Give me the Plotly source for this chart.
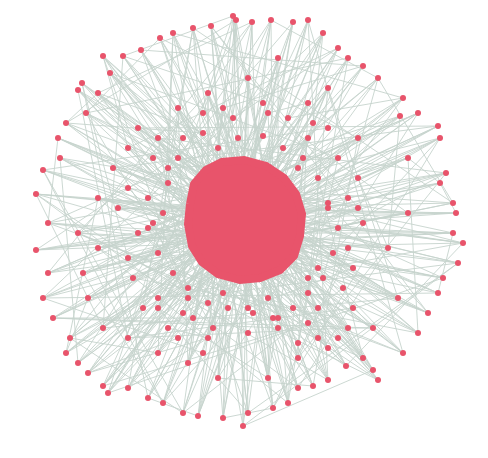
import plotly.graph_objects as go

# outer nodes (approx pixel positions)
outer_x = [225, 228, 244, 263, 285, 300, 203, 185, 165, 152, 133, 115, 95, 102, 74, 70, 90, 78, 58, 50,
           52, 35, 28, 40, 28, 40, 35, 45, 62, 58, 70, 80, 95, 100, 120, 140, 155, 175, 190, 215,
           235, 240, 265, 280, 290, 305, 320, 338, 355, 365, 370, 395, 410, 420, 430, 435, 450, 455, 445, 448,
           445, 432, 438, 432, 430, 410, 392, 395, 370, 355, 340, 330, 315, 320, 350, 400, 400, 380, 390, 365,
           340, 320, 290, 260, 210, 180, 150, 120, 95, 80, 75, 90, 70, 90, 105, 120, 130, 170, 200, 240,
           270, 300, 330, 350, 345, 310, 270, 200, 150, 120, 110, 150, 215, 260, 300, 320, 310, 240, 180, 140, 160]
outer_y = [8, 12, 14, 12, 14, 12, 18, 20, 25, 30, 42, 48, 48, 65, 75, 82, 85, 105, 115, 130,
           150, 162, 186, 215, 242, 265, 290, 310, 330, 345, 355, 365, 378, 385, 380, 390, 395, 405, 408, 410,
           418, 405, 400, 395, 380, 378, 372, 358, 350, 362, 372, 345, 325, 305, 285, 270, 255, 235, 225, 205,
           195, 175, 165, 130, 118, 105, 108, 90, 70, 58, 50, 40, 25, 80, 130, 150, 205, 240, 290, 320,
           320, 340, 350, 370, 370, 355, 345, 330, 320, 290, 265, 240, 225, 190, 160, 140, 120, 100, 85, 70,
           50, 95, 150, 200, 260, 300, 310, 330, 300, 250, 200, 130, 100, 105, 130, 200, 260, 300, 290, 220, 160]

# middle-ring nodes around the core
mid_x = [170, 160, 175, 195, 210, 230, 255, 275, 295, 310, 320, 330, 325, 315, 300, 285, 265, 245, 220, 200,
         180, 165, 150, 145, 140, 155, 185, 205, 240, 270, 300, 335, 340, 130, 125, 150, 175, 280, 305, 350,
         355, 345, 330, 310, 290, 160, 135, 120, 195, 225, 255, 290, 320, 195, 170, 340, 145, 300, 260, 215]
mid_y = [150, 175, 130, 125, 140, 130, 128, 140, 150, 170, 195, 220, 245, 270, 285, 300, 310, 305, 300, 295,
         280, 265, 245, 215, 190, 205, 310, 320, 325, 320, 315, 280, 240, 225, 270, 290, 305, 110, 115, 170,
         215, 300, 330, 330, 335, 320, 300, 180, 105, 110, 95, 160, 120, 345, 330, 190, 150, 270, 290, 285]

# dense core outline
core_x = [182, 186, 198, 214, 236, 258, 276, 288, 294, 292, 286, 272, 252, 232, 210, 194, 184, 180, 182]
core_y = [196, 176, 162, 154, 152, 158, 170, 186, 206, 228, 248, 262, 270, 272, 266, 254, 238, 216, 196]

# hub nodes inside the core
hub_x = [232, 215, 250, 240, 220, 200, 265, 235]
hub_y = [220, 200, 235, 205, 240, 225, 210, 180]

ex, ey = [], []
for i, (x, y) in enumerate(zip(outer_x, outer_y)):
    for h in (i % 8, (i + 3) % 8, (i + 5) % 8, (i + 6) % 8):
        ex += [hub_x[h], x, None]
        ey += [hub_y[h], y, None]
    j = (i * 7 + 11) % len(outer_x)
    ex += [x, outer_x[j], None]
    ey += [y, outer_y[j], None]
for i, (x, y) in enumerate(zip(mid_x, mid_y)):
    j = (i * 5 + 3) % len(outer_x)
    ex += [x, outer_x[j], None]
    ey += [y, outer_y[j], None]

edge_col = "#c6d4cd"
node_col = "#e8546b"

fig = go.Figure()
fig.add_trace(go.Scatter(x=ex, y=ey, mode="lines", line=dict(color=edge_col, width=0.9),
                         hoverinfo="skip"))
fig.add_trace(go.Scatter(x=core_x, y=core_y, mode="lines", fill="toself", fillcolor=node_col,
                         line=dict(color=node_col, width=8), hoverinfo="skip"))
fig.add_trace(go.Scatter(x=mid_x + outer_x, y=mid_y + outer_y, mode="markers",
                         marker=dict(color=node_col, size=6)))
fig.update_xaxes(range=[0, 488], visible=False)
fig.update_yaxes(range=[458, 0], visible=False)
fig.update_layout(width=488, height=458, margin=dict(l=0, r=0, t=0, b=0),
                  plot_bgcolor="white", paper_bgcolor="white", showlegend=False)
fig.write_html("out.html")
